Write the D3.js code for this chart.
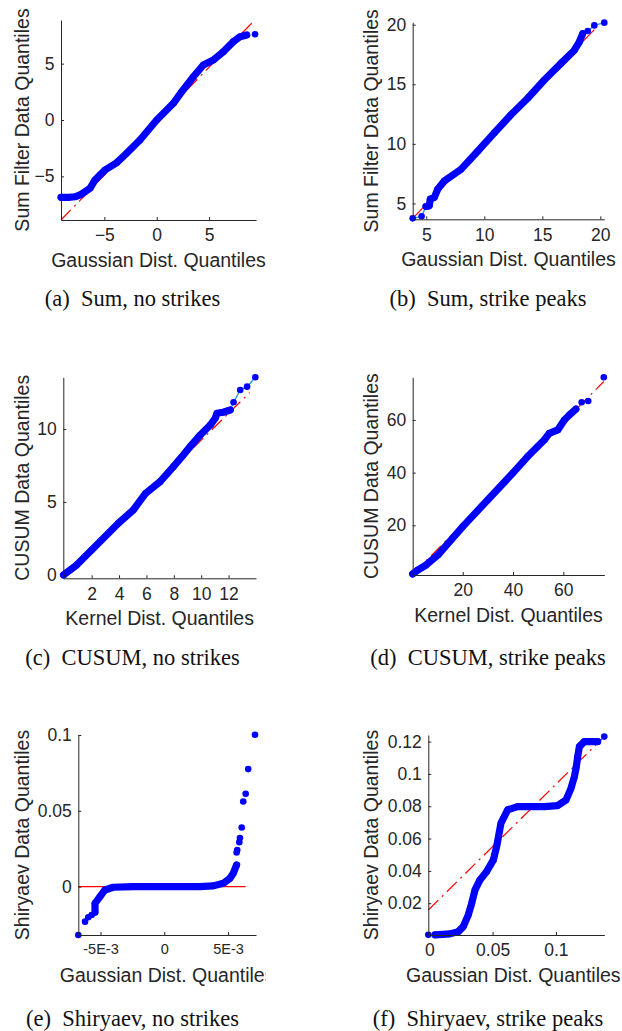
<!DOCTYPE html>
<html>
<head>
<meta charset="utf-8">
<script src="https://cdn.jsdelivr.net/npm/d3@7"></script>
<style>
  body { margin: 0; background: #fff; }
  svg { display: block; }
</style>
</head>
<body>
<script>
// (a) Sum, no strikes
const sumNoBandX = [-9.14, -8.44, -7.80, -7.33, -6.85, -6.37, -5.89, -5.42, -4.94, -3.82, -2.87, -1.60, 0, 1.59, 2.39, 3.50, 4.45, 5.41, 6.36, 7.32, 7.96, 8.60]
const sumNoBandY = [-6.86, -6.86, -6.81, -6.65, -6.36, -6.06, -5.32, -4.88, -4.44, -3.79, -2.95, -1.77, 0, 1.48, 2.51, 3.84, 4.88, 5.32, 6.06, 6.95, 7.39, 7.54]
const sumNoDotX = [9.39]
const sumNoDotY = [7.60]
const sumNoRefX = [-9.14, 9.30]
const sumNoRefY = [-8.87, 8.81]
const sumNoXTicks = [-5, 0, 5]
const sumNoYTicks = [-5, 0, 5]

// (b) Sum, strike peaks
const sumPeakBandX = [4.97, 5.26, 5.34, 5.69, 5.98, 6.55, 7.99, 9.43, 10.86, 12.30, 13.74, 15.17, 16.61, 17.76, 18.19, 18.48]
const sumPeakBandY = [4.75, 4.80, 5.36, 5.50, 6.19, 6.88, 7.86, 9.38, 10.92, 12.44, 13.83, 15.36, 16.75, 17.86, 18.55, 19.25]
const sumPeakDotX = [3.83, 4.60, 18.91, 19.48, 20.34]
const sumPeakDotY = [3.75, 3.92, 19.47, 19.94, 20.17]
const sumPeakRefX = [3.83, 19.48]
const sumPeakRefY = [3.75, 19.58]
const sumPeakXTicks = [5, 10, 15, 20]
const sumPeakYTicks = [5, 10, 15, 20]

// (c) CUSUM, no strikes
const cusumNoBandX = [-0.05, 0.9, 2.0, 3.95, 5.04, 5.95, 7.0, 7.97, 8.59, 9.19, 9.93, 10.66, 11.02, 11.15, 11.6, 12.12]
const cusumNoBandY = [0.0, 0.68, 1.71, 3.54, 4.45, 5.6, 6.39, 7.42, 8.1, 8.79, 9.59, 10.27, 10.73, 11.08, 11.15, 11.30]
const cusumNoDotX = [12.36, 12.85, 13.35, 13.95]
const cusumNoDotY = [11.83, 12.67, 12.90, 13.54]
const cusumNoRefX = [-0.05, 13.53]
const cusumNoRefY = [-0.05, 12.49]
const cusumNoXTicks = [2, 4, 6, 8, 10, 12]
const cusumNoYTicks = [0, 5, 10]

// (d) CUSUM, strike peaks
const cusumPeakBandX = [0.1, 2.1, 5.4, 10.1, 20.0, 29.9, 39.9, 45.8, 49.8, 52.4, 54.4, 57.8, 60.4, 62.4, 65.0]
const cusumPeakBandY = [1.52, 3.0, 4.9, 8.7, 19.5, 29.6, 39.8, 46.1, 49.9, 52.4, 54.9, 56.2, 60.0, 61.9, 64.1]
const cusumPeakDotX = [67.3, 69.9, 76.1]
const cusumPeakDotY = [66.7, 67.2, 76.2]
const cusumPeakRefX = [0.1, 76.1]
const cusumPeakRefY = [1.4, 74.6]
const cusumPeakXTicks = [20, 40, 60]
const cusumPeakYTicks = [20, 40, 60]

// (e) Shiryaev, no strikes
const shirNoBandX = [-0.00543, -0.00543, -0.00504, -0.00465, -0.00400, -0.00243, 0.0028, 0.00384, 0.00462, 0.00515, 0.00541, 0.00567]
const shirNoBandY = [-0.0169, -0.0110, -0.0066, -0.0022, -0.0004, 0, 0, 0.0005, 0.0022, 0.0055, 0.0088, 0.0143]
const shirNoDotX = [-0.00674, -0.00621, -0.00596, -0.00569, 0.00567, 0.00572, 0.00588, 0.00593, 0.00607, 0.00619, 0.00638, 0.00658, 0.00711]
const shirNoDotY = [-0.0319, -0.0231, -0.0202, -0.0187, 0.0225, 0.0242, 0.0293, 0.0320, 0.0390, 0.0561, 0.0612, 0.0775, 0.1002]
const shirNoRefX = [-0.00674, 0.00638]
const shirNoRefY = [0, 0]
const shirNoXTicks = [-0.005, 0, 0.005]
const shirNoXLabels = ['-5E-3', '0', '5E-3']
const shirNoYTicks = [0, 0.05, 0.1]

// (f) Shiryaev, strike peaks
const shirPeakBandX = [0.0045, 0.0163, 0.0229, 0.0268, 0.0308, 0.0335, 0.0361, 0.0400, 0.0453, 0.0506, 0.0532, 0.0566, 0.0619, 0.0698, 0.0908, 0.1014, 0.1080, 0.1119, 0.1146, 0.1159, 0.1172, 0.1185, 0.1224, 0.1330]
const shirPeakBandY = [0.0004, 0.0010, 0.0024, 0.0055, 0.0128, 0.0200, 0.0282, 0.0344, 0.0396, 0.0468, 0.0551, 0.0695, 0.0778, 0.0798, 0.0798, 0.0804, 0.0839, 0.0911, 0.0984, 0.1036, 0.1107, 0.1169, 0.1200, 0.1200]
const shirPeakDotX = [-0.0008, 0.1382]
const shirPeakDotY = [0.0004, 0.1231]
const shirPeakRefX = [-0.0008, 0.1382]
const shirPeakRefY = [0.0158, 0.1231]
const shirPeakXTicks = [0, 0.05, 0.1]
const shirPeakYTicks = [0.02, 0.04, 0.06, 0.08, 0.1, 0.12]

const gaussTitle = 'Gaussian Dist. Quantiles'
const kernelTitle = 'Kernel Dist. Quantiles'

const blue = '#0000ff'
const red = '#ff0000'
const ink = '#262626'
const linkColor = '#1f9ad6'

// layout: pixel box of each axes [left, right, top, bottom]
const panels = [
  {bandX: sumNoBandX, bandY: sumNoBandY, dotX: sumNoDotX, dotY: sumNoDotY, refX: sumNoRefX, refY: sumNoRefY, refDash: true,
   xDom: [-9.14, 9.48], yDom: [-8.87, 8.87], xTicks: sumNoXTicks, yTicks: sumNoYTicks,
   xTitle: gaussTitle, yTitle: 'Sum Filter Data Quantiles', tag: '(a)', caption: 'Sum, no strikes',
   box: [61, 256, 20, 220], col: 0, capY: 306},
  {bandX: sumPeakBandX, bandY: sumPeakBandY, dotX: sumPeakDotX, dotY: sumPeakDotY, refX: sumPeakRefX, refY: sumPeakRefY, refDash: false, link: true,
   xDom: [3.83, 20.34], yDom: [3.67, 20.2], xTicks: sumPeakXTicks, yTicks: sumPeakYTicks,
   xTitle: gaussTitle, yTitle: 'Sum Filter Data Quantiles', tag: '(b)', caption: 'Sum, strike peaks',
   box: [412.7, 604.3, 22.3, 219.3], col: 1, capY: 306},
  {bandX: cusumNoBandX, bandY: cusumNoBandY, dotX: cusumNoDotX, dotY: cusumNoDotY, refX: cusumNoRefX, refY: cusumNoRefY, refDash: true, link: true,
   xDom: [-0.07, 14.0], yDom: [-0.23, 13.54], xTicks: cusumNoXTicks, yTicks: cusumNoYTicks,
   xTitle: kernelTitle, yTitle: 'CUSUM Data Quantiles', tag: '(c)', caption: 'CUSUM, no strikes',
   box: [63.3, 256, 377.3, 578.3], col: 0, capY: 664.5},
  {bandX: cusumPeakBandX, bandY: cusumPeakBandY, dotX: cusumPeakDotX, dotY: cusumPeakDotY, refX: cusumPeakRefX, refY: cusumPeakRefY, refDash: true,
   xDom: [0.1, 76.3], yDom: [1.12, 76.2], xTicks: cusumPeakXTicks, yTicks: cusumPeakYTicks,
   xTitle: kernelTitle, yTitle: 'CUSUM Data Quantiles', tag: '(d)', caption: 'CUSUM, strike peaks',
   box: [412.7, 604.3, 377.3, 575], col: 1, capY: 664.5},
  {bandX: shirNoBandX, bandY: shirNoBandY, dotX: shirNoDotX, dotY: shirNoDotY, refX: shirNoRefX, refY: shirNoRefY, refDash: false,
   xDom: [-0.00674, 0.00719], yDom: [-0.0319, 0.1], xTicks: shirNoXTicks, xLabels: shirNoXLabels, xTickSize: 14.5, yTicks: shirNoYTicks,
   xTitle: gaussTitle, yTitle: 'Shiryaev Data Quantiles', tag: '(e)', caption: 'Shiryaev, no strikes',
   box: [78.3, 256, 735, 935], col: 0, capY: 1026, clipRight: 266},
  {bandX: shirPeakBandX, bandY: shirPeakBandY, dotX: shirPeakDotX, dotY: shirPeakDotY, refX: shirPeakRefX, refY: shirPeakRefY, refDash: true,
   xDom: [-0.0008, 0.1382], yDom: [0.0003, 0.1241], xTicks: shirPeakXTicks, yTicks: shirPeakYTicks,
   xTitle: gaussTitle, yTitle: 'Shiryaev Data Quantiles', tag: '(f)', caption: 'Shiryaev, strike peaks',
   box: [428.3, 604.3, 735, 935], col: 1, capY: 1026, titleShift: -3}
]

const yTitleX = [29, 378]
const captionX = [132.5, 488]

const svg = d3.select('body')
  .append('svg')
  .attr('width', 622)
  .attr('height', 1031)

svg.append('defs')
  .append('clipPath')
  .attr('id', 'clipLeft')
  .append('rect')
  .attr('x', 0).attr('y', 0).attr('width', 266).attr('height', 1031)

panels.forEach((p, k) => {
  const [l, r, t, b] = p.box
  const x = d3.scaleLinear().domain(p.xDom).range([l, r])
  const y = d3.scaleLinear().domain(p.yDom).range([b, t])
  const g = svg.append('g')
  if (p.clipRight) g.attr('clip-path', 'url(#clipLeft)')

  const band = p.bandX.map((v, i) => [v, p.bandY[i]])
  const dots = p.dotX.map((v, i) => [v, p.dotY[i]])
  const line = d3.line().x(d => x(d[0])).y(d => y(d[1]))

  // thin link through all points (only visible where points spread out)
  if (p.link) {
    const all = band.concat(dots).sort((m, n) => m[0] - n[0])
    g.append('path')
      .attr('d', line(all))
      .attr('fill', 'none')
      .attr('stroke', linkColor)
      .attr('stroke-width', 1.3)
  }

  // reference line
  g.append('path')
    .attr('d', line(p.refX.map((v, i) => [v, p.refY[i]])))
    .attr('fill', 'none')
    .attr('stroke', red)
    .attr('stroke-width', 1.2)
    .attr('stroke-dasharray', p.refDash ? '14,5,2,5' : null)

  // dense band of quantile markers
  g.append('path')
    .attr('d', line(band))
    .attr('fill', 'none')
    .attr('stroke', blue)
    .attr('stroke-width', 7.2)
    .attr('stroke-linecap', 'round')
    .attr('stroke-linejoin', 'round')

  g.selectAll('circle.q')
    .data(band.concat(dots))
    .enter()
    .append('circle')
    .attr('class', 'q')
    .attr('cx', d => x(d[0]))
    .attr('cy', d => y(d[1]))
    .attr('r', 3.3)
    .attr('fill', blue)

  // axes, ticks pointing inward
  const xAxis = g.append('g')
    .attr('transform', 'translate(0,' + b + ')')
    .call(d3.axisBottom(x)
      .tickValues(p.xTicks)
      .tickFormat((d, i) => p.xLabels ? p.xLabels[i] : d3.format('~g')(d))
      .tickSizeInner(-3).tickSizeOuter(0).tickPadding(9))
  const yAxis = g.append('g')
    .attr('transform', 'translate(' + l + ',0)')
    .call(d3.axisLeft(y)
      .tickValues(p.yTicks)
      .tickFormat(d3.format('~g'))
      .tickSizeInner(-3).tickSizeOuter(0).tickPadding(6.5))

  ;[xAxis, yAxis].forEach(a => {
    a.select('.domain').attr('stroke', ink).attr('stroke-width', 1)
    a.selectAll('.tick line').attr('stroke', ink)
    a.selectAll('.tick text')
      .attr('fill', ink)
      .style('font-family', '"Liberation Sans", Arial, sans-serif')
      .style('font-size', '17.5px')
  })
  if (p.xTickSize) xAxis.selectAll('.tick text').style('font-size', p.xTickSize + 'px')

  // axis titles
  g.append('text')
    .attr('x', (l + r) / 2 + (p.titleShift || 0))
    .attr('y', b + 46.5)
    .attr('text-anchor', 'middle')
    .attr('fill', ink)
    .style('font-family', '"Liberation Sans", Arial, sans-serif')
    .style('font-size', '19.5px')
    .text(p.xTitle)

  g.append('text')
    .attr('transform', 'translate(' + yTitleX[p.col] + ',' + ((t + b) / 2) + ') rotate(-90)')
    .attr('text-anchor', 'middle')
    .attr('fill', ink)
    .style('font-family', '"Liberation Sans", Arial, sans-serif')
    .style('font-size', '19.5px')
    .text(p.yTitle)

  // sub-caption
  svg.append('text')
    .attr('x', captionX[p.col])
    .attr('y', p.capY)
    .attr('text-anchor', 'middle')
    .attr('fill', '#111')
    .style('font-family', '"Liberation Serif", "Times New Roman", serif')
    .style('font-size', '22.5px')
    .text(p.tag + '\u2002' + p.caption)
})
</script>
</body>
</html>
